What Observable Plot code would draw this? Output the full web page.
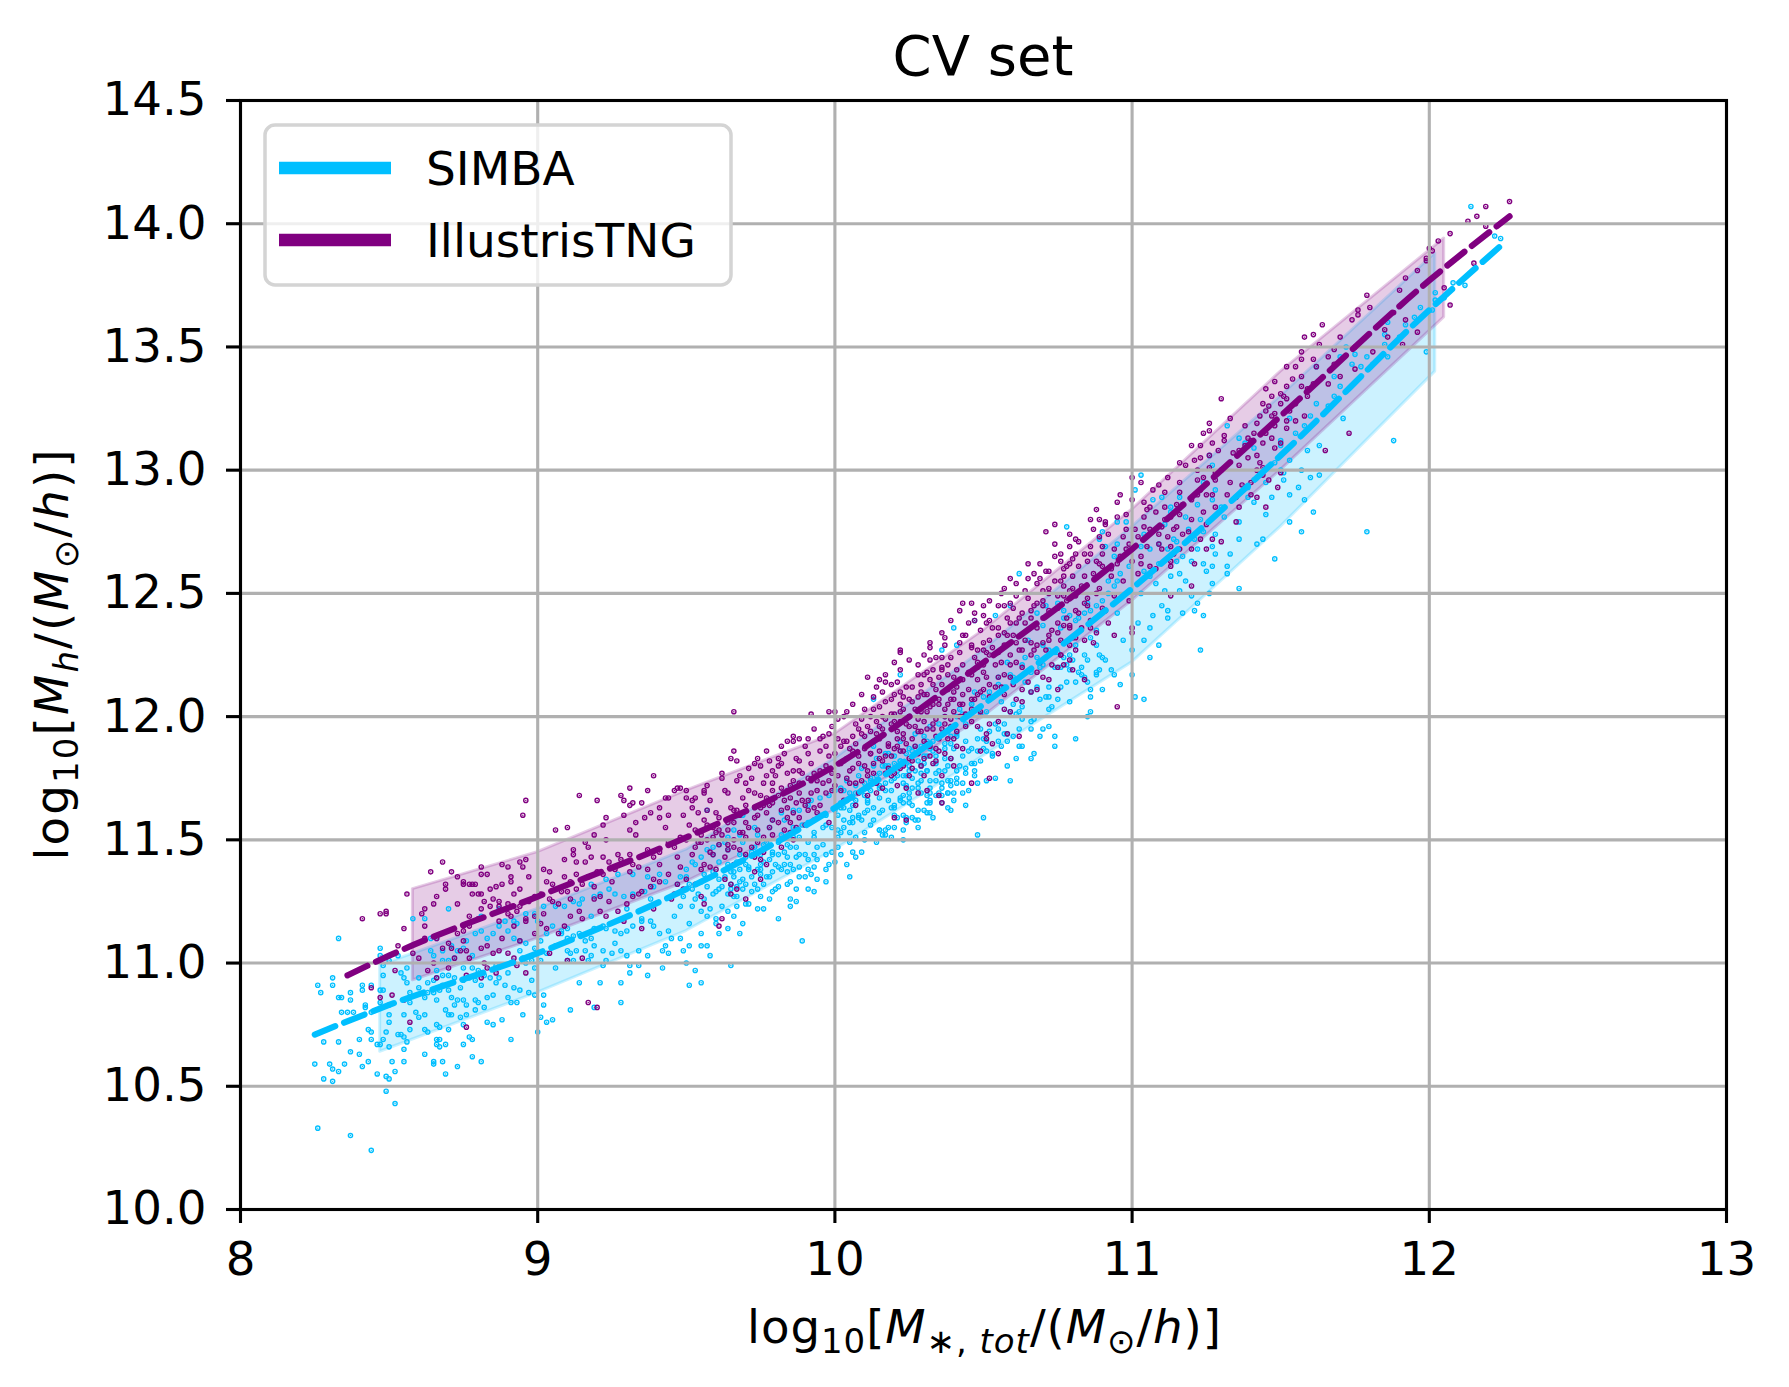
<!DOCTYPE html>
<html><head><meta charset="utf-8">
<script src="https://cdn.jsdelivr.net/npm/d3@7"></script>
<script src="https://cdn.jsdelivr.net/npm/@observablehq/plot@0.6"></script>
<style>body{margin:0;background:#fff;} svg{display:block;}</style>
</head><body><div id="chart"></div>
<script>
// ---- data ----
const xTicks = [8, 9, 10, 11, 12, 13];
const yTicks = [10, 10.5, 11, 11.5, 12, 12.5, 13, 13.5, 14, 14.5];
const seriesNames = ["SIMBA", "IllustrisTNG"];

const simbaMeanX = [8.25, 8.5, 9.0, 9.5, 10.0, 10.5, 11.0, 11.5, 12.0, 12.24];
const simbaMeanY = [10.71, 10.83, 11.04, 11.30, 11.63, 12.05, 12.52, 13.06, 13.65, 13.91];
const tngMeanX = [8.36, 8.5, 9.0, 9.5, 10.0, 10.5, 11.0, 11.5, 12.0, 12.27];
const tngMeanY = [10.95, 11.03, 11.27, 11.51, 11.80, 12.22, 12.68, 13.22, 13.77, 14.03];

const simbaBandX = [8.47, 9.0, 9.5, 10.0, 10.5, 11.0, 11.5, 12.02];
const simbaBandLo = [10.64, 10.88, 11.13, 11.46, 11.84, 12.22, 12.77, 13.40];
const simbaBandHi = [10.99, 11.22, 11.46, 11.83, 12.27, 12.77, 13.30, 13.88];
const tngBandX = [8.58, 9.0, 9.5, 10.0, 10.5, 11.0, 11.5, 12.05];
const tngBandLo = [10.93, 11.10, 11.33, 11.62, 12.00, 12.47, 13.00, 13.62];
const tngBandHi = [11.30, 11.45, 11.70, 11.93, 12.35, 12.84, 13.40, 13.94];

const simbaPoints = [
[8.33,11.10],[8.26,10.91],[8.27,10.88],[8.31,10.94],[8.31,10.91],[8.33,10.86],[8.34,10.86],[8.37,10.88],[8.37,10.85],[8.34,10.80],[8.36,10.80],[8.38,10.80],[8.41,10.89],[8.41,10.91],[8.44,10.91],[8.42,10.83],[8.42,10.82],[8.44,10.80],[8.43,10.73],[8.44,10.72],[8.44,10.69],[8.46,10.67],[8.47,10.67],[8.48,10.69],[8.49,10.72],[8.50,10.66],[8.40,10.69],[8.28,10.68],[8.33,10.68],[8.37,10.64],[8.40,10.63],[8.43,10.60],[8.41,10.58],[8.35,10.59],[8.30,10.59],[8.31,10.57],[8.25,10.59],[8.28,10.53],[8.31,10.52],[8.33,10.56],[8.46,10.55],[8.49,10.54],[8.50,10.53],[8.52,10.56],[8.51,10.60],[8.55,10.60],[8.55,10.65],[8.53,10.71],[8.54,10.71],[8.55,10.70],[8.56,10.68],[8.49,10.48],[8.52,10.43],[8.26,10.33],[8.37,10.30],[8.44,10.24],[8.62,10.63],[8.65,10.60],[8.65,10.59],[8.68,10.60],[8.69,10.55],[8.73,10.58],[8.78,10.62],[8.81,10.60],[8.75,10.67],[8.77,10.70],[8.78,10.69],[8.69,10.67],[8.67,10.69],[8.66,10.69],[8.66,10.67],[8.67,10.66],[8.63,10.72],[8.62,10.73],[8.60,10.78],[8.62,10.79],[8.59,10.80],[8.57,10.73],[8.55,10.79],[8.57,10.84],[8.57,10.88],[8.56,10.92],[8.55,10.94],[8.56,10.98],[8.54,10.96],[8.53,11.03],[8.50,11.01],[8.47,11.06],[8.47,11.03],[8.48,10.99],[8.48,10.95],[8.48,10.89],[8.50,10.83],[8.50,10.79],[8.50,10.76],[8.47,10.89],[8.47,10.84],
[8.60,10.90],[8.63,10.88],[8.65,10.88],[8.66,10.85],[8.67,10.89],[8.68,10.91],[8.70,10.89],[8.71,10.86],[8.72,10.83],[8.73,10.85],[8.75,10.85],[8.76,10.83],[8.79,10.85],[8.80,10.84],[8.79,10.81],[8.76,10.79],[8.74,10.78],[8.75,10.75],[8.71,10.79],[8.69,10.81],[8.66,10.75],[8.67,10.74],[8.70,10.73],[8.83,10.76],[8.85,10.75],[8.88,10.77],[8.91,10.84],[8.93,10.84],[8.95,10.79],[8.91,10.69],[9.00,10.72],[9.01,10.78],[9.03,10.76],[9.05,10.77],[9.02,10.87],[8.99,10.87],[8.97,10.88],[8.94,10.89],[8.92,10.90],[8.89,10.91],[8.85,10.87],[8.83,10.86],[8.81,10.91],[8.79,10.93],[8.77,10.94],[8.75,10.93],[8.72,10.94],[8.70,10.95],[8.68,10.95],[8.66,10.94],[8.65,10.93],[8.63,10.92],[8.60,10.94],
[8.58,11.18],[8.62,11.18],[8.64,11.10],[8.66,11.10],[8.64,11.05],[8.65,11.03],[8.68,11.01],[8.70,11.01],[8.72,11.02],[8.75,10.98],[8.78,10.98],[8.80,10.97],[8.82,10.95],[8.84,10.94],[8.86,10.92],[8.87,10.94],[8.90,10.96],[8.92,11.00],[8.95,11.02],[8.96,11.00],[8.98,11.01],[8.99,10.98],[9.01,11.01],[9.03,11.04],[9.06,11.07],[9.10,11.05],[9.11,11.04],[9.12,11.01],[9.10,11.01],[9.13,11.05],[9.16,11.05],[9.18,11.03],[9.17,11.01],[9.19,11.07],[9.22,11.05],[9.23,11.01],[9.25,11.04],[9.28,11.05],[9.30,11.03],[9.31,10.99],[9.31,10.96],[9.34,10.99],[9.37,10.95],[9.37,11.03],[9.42,11.05],[9.44,11.04],[9.43,11.07],[9.45,11.10],[9.48,11.10],[9.44,11.13],[9.41,11.12],[9.39,11.15],[9.38,11.17],[9.35,11.18],[9.35,11.17],[9.32,11.15],[9.30,11.13],[9.28,11.12],[9.26,11.13],[9.23,11.14],[9.22,11.15],[9.19,11.14],[9.18,11.10],[9.16,11.09],[9.14,11.12],[9.12,11.11],[9.10,11.10],[9.08,11.12],[9.08,11.13],[9.05,11.15],[9.03,11.12],[9.01,11.09],[8.99,11.06],[8.96,11.08],[8.94,11.09],[8.92,11.10],[8.90,11.13],[8.87,11.15],[8.85,11.12],[8.83,11.10],[8.81,11.13],[8.79,11.12],[8.76,11.09],[8.75,11.06],[8.73,11.05],[8.71,11.07],[8.68,11.05],
[8.87,11.22],[8.92,11.17],[8.93,11.16],[8.96,11.20],[8.99,11.20],[9.00,11.17],[9.02,11.23],[9.06,11.23],[9.09,11.23],[9.12,11.25],[9.14,11.24],[9.15,11.26],[9.19,11.27],[9.21,11.28],[9.24,11.30],[9.26,11.28],[9.29,11.27],[9.32,11.28],[9.36,11.29],[9.39,11.31],[9.43,11.33],[9.47,11.32],[9.41,11.36],[9.37,11.35],[9.32,11.36],[9.27,11.36],[9.23,11.34],[9.18,11.32],[9.21,10.92],[9.28,10.92],[9.28,10.84],[9.19,10.82],[9.11,10.81],[8.70,11.22],[8.81,11.19],[8.89,11.17],
[9.51,10.91],[9.55,10.92],[9.53,10.97],[9.50,11.00],[9.65,10.99],[9.58,11.03],[9.57,11.07],[9.55,11.07],[9.51,11.07],[9.89,11.09],[9.81,11.18],[9.76,11.22],[9.85,11.23],[9.87,11.25],[9.91,11.30],[9.87,11.30],[9.84,11.32],[9.88,11.35],[9.91,11.38],[9.93,11.39],[9.94,11.34],[9.97,11.38],[10.05,11.35],[10.07,11.43],[10.00,11.41],[9.97,11.44],[9.93,11.44],[9.91,11.42],[9.88,11.44],[9.85,11.47],[9.83,11.45],[9.81,11.44],[9.78,11.42],[9.75,11.40],[9.74,11.38],[9.71,11.39],[9.68,11.38],[9.66,11.35],[9.65,11.32],[9.67,11.31],[9.69,11.30],[9.67,11.23],[9.68,11.12],[9.64,11.14],[9.61,11.12],[9.60,11.16],[9.57,11.19],[9.55,11.21],[9.53,11.26],[9.52,11.30],[9.51,11.32],[9.50,11.35],[9.49,11.27],[9.48,11.23],[9.52,11.23],[9.56,11.26],[9.59,11.28],[9.61,11.30],[9.64,11.28],[9.66,11.27],[9.71,11.24],[9.74,11.30],[9.76,11.32],[9.78,11.35],[9.79,11.37],[9.81,11.39],[9.83,11.40],[9.85,11.40],[9.86,11.38],[9.70,11.32],[9.69,11.34],[9.72,11.35],[9.75,11.38],[9.79,11.29],
[9.55,11.33],[9.57,11.31],[9.59,11.37],[9.61,11.34],[9.64,11.40],[9.66,11.37],[9.68,11.44],[9.70,11.40],[9.73,11.47],[9.75,11.44],[9.77,11.49],[9.79,11.45],[9.82,11.52],[9.84,11.48],[9.86,11.55],[9.88,11.51],[9.91,11.57],[9.93,11.53],[9.95,11.60],[9.97,11.56],
[10.10,11.53],[10.15,11.54],[10.17,11.54],[10.17,11.52],[10.20,11.60],[10.24,11.59],[10.26,11.59],[10.31,11.61],[10.32,11.61],[10.31,11.65],[10.36,11.65],[10.34,11.68],[10.38,11.69],[10.40,11.69],[10.41,11.73],[10.39,11.62],[10.32,11.71],[10.28,11.71],[10.25,11.67],[10.22,11.67],[10.20,11.63],[10.23,11.65],[10.15,11.67],[10.13,11.63],[10.11,11.62],[10.08,11.59],[10.06,11.59],[10.05,11.57],[10.03,11.55],[10.01,11.54],[10.26,11.75],[10.25,11.78],[10.23,11.76],[10.20,11.75],[10.17,11.73],[10.15,11.71],[10.13,11.73],[10.11,11.71],[10.09,11.70],[10.06,11.67],[10.04,11.66],[10.02,11.63],[10.00,11.62],[10.31,11.84],[10.33,11.86],[10.37,11.89],[10.39,11.92],[10.41,11.93],[10.31,11.90],[10.29,11.88],[10.26,11.86],[10.24,11.85],[10.22,11.82],[10.20,11.81],[10.17,11.80],[10.15,11.77],[10.13,11.88],[10.22,12.17],[10.13,12.07],[10.30,11.81],[10.35,11.78],[10.38,11.80],[10.41,11.78],[10.39,11.74],[10.34,11.74],[9.57,11.62],[9.69,11.60],[9.66,11.54],[9.64,11.51],[9.61,11.48],[9.59,11.47],[9.57,11.46],[9.55,11.43],[9.53,11.40],[9.50,11.38],[9.48,11.35],
[10.78,12.77],[10.62,12.58],[10.54,12.41],[10.47,12.39],[10.40,12.36],[10.41,12.29],[10.36,12.27],[10.59,12.45],[10.68,12.42],[10.71,12.45],[10.75,12.46],[10.77,12.43],[10.79,12.41],[10.81,12.39],[10.84,12.42],[10.86,12.43],[10.88,12.45],[10.90,12.47],[10.92,12.50],[10.94,12.53],[10.95,12.55],[10.96,12.58],[10.94,12.65],[10.95,12.70],[10.91,12.69],[10.89,12.72],[10.90,12.75],[10.95,12.79],[10.98,12.79],[11.01,12.92],[11.03,12.98],[11.07,12.88],[11.10,12.89],[11.13,12.85],[11.13,12.83],[11.16,12.89],[11.19,12.76],[11.23,12.80],[11.27,13.02],[11.27,12.88],[11.28,12.92],[11.27,12.69],[11.28,12.66],[11.24,12.62],[11.25,12.59],[11.27,12.61],[11.32,12.61],[11.32,12.58],[11.26,12.50],[11.20,12.49],[11.22,12.46],[11.24,12.41],[11.23,12.27],[11.06,12.24],[11.09,12.29],[11.04,12.31],[11.02,12.38],[11.07,12.41],[11.10,12.45],[11.12,12.43],[11.17,12.42],[11.16,12.51],[11.11,12.51],[11.08,12.54],[11.06,12.57],[11.04,12.59],[11.13,12.57],[11.16,12.58],[11.15,12.63],[11.17,12.65],[11.12,12.68],[11.09,12.70],[11.06,12.68],[11.03,12.69],[11.00,12.68],[11.04,12.74],[11.08,12.76],[11.11,12.78],[11.14,12.72],[11.21,12.72],[11.22,12.68],[11.20,12.63],[11.28,12.74],[11.31,12.81],[11.24,12.95],[11.22,12.86],[11.18,12.81],
[11.01,12.08],[11.04,12.07],[11.00,12.17],[10.94,12.17],[10.90,12.11],[10.86,12.08],[10.88,12.17],[10.89,12.19],[10.91,12.23],[10.89,12.25],[10.88,12.29],[10.85,12.23],[10.82,12.18],[10.81,12.14],[10.79,12.19],[10.78,12.21],[10.85,12.14],[10.84,12.16],[10.83,12.20],[10.79,12.25],[10.77,12.24],[10.76,12.20],[10.75,12.26],[10.72,12.27],[10.70,12.21],[10.68,12.24],[10.66,12.18],[10.63,12.21],[10.61,12.15],[10.59,12.17],[10.57,12.12],[10.55,12.13],[10.52,12.07],[10.50,12.08],[10.48,12.03],[10.46,12.05],[10.43,12.01],[10.71,12.08],[10.73,12.04],[10.75,12.07],[10.72,12.12],[10.69,12.07],[10.66,12.10],[10.63,12.04],[10.61,12.01],[10.59,12.02],[10.57,11.97],[10.55,11.95],[10.52,11.94],[10.51,11.90],[10.50,11.91],[10.48,11.86],[10.46,11.87],[10.43,11.84],[10.44,11.77],[10.47,11.76],[10.51,11.74],[10.54,11.75],[10.59,11.74],[10.58,11.80],[10.61,11.83],[10.63,11.88],[10.66,11.83],[10.67,11.85],[10.69,11.92],[10.70,11.95],[10.72,11.96],[10.74,11.92],[10.74,11.88],[10.81,11.91],[10.66,11.98],[10.63,11.99],[10.62,11.95],[10.60,11.92],[10.58,11.93],[10.56,11.88],[10.55,11.90],[10.53,11.85],[10.51,11.86],[10.49,11.82],[10.47,11.81],[10.44,11.79],[10.50,11.59],[10.48,11.52],[10.45,11.70],[10.44,11.64],[10.85,12.00],[10.86,12.02],
[10.05,11.49],[10.02,11.53],[10.06,11.57],[10.10,11.61],[10.09,11.58],[10.15,11.54],[10.19,11.51],[10.23,11.54],[10.27,11.58],[10.23,11.60],[10.20,11.64],[10.18,11.66],[10.22,11.66],[10.25,11.69],[10.29,11.69],[10.32,11.65],[10.32,11.69],[10.35,11.69],[10.38,11.69],[10.40,11.66],[10.36,11.73],[10.32,11.74],[10.28,11.73],[10.24,11.76],[10.21,11.78],[10.19,11.74],[10.15,11.72],[10.12,11.70],[10.10,11.68],[10.07,11.66],[10.05,11.69],[10.03,11.70],[10.02,11.65],[10.01,11.60],[10.05,11.62],[10.25,11.87],[10.28,11.82],[10.30,11.84],[10.32,11.87],[10.34,11.81],[10.37,11.87],[10.39,11.89],[10.41,11.92],[10.37,11.78],[10.38,11.74],[10.31,11.78],[10.29,11.80],[10.27,11.78],[10.24,11.81],[10.22,11.82],[10.20,11.84],[10.18,11.85],[10.16,11.80],[10.14,11.76],[10.12,11.74],[10.10,11.73],[10.07,11.72],[10.23,11.73],[10.25,11.65],[10.30,11.62],[10.28,11.58],
[12.14,14.07],[12.22,13.95],[12.24,13.94],[12.12,13.75],[12.02,13.72],[12.02,13.69],[11.99,13.48],[11.86,13.60],[11.85,13.55],[11.85,13.51],[11.92,13.59],[11.74,13.43],[11.77,13.42],[11.70,13.34],[11.68,13.30],[11.71,13.21],[11.63,13.10],[11.60,12.97],[11.63,12.98],[11.51,12.96],[11.51,12.99],[11.53,12.90],[11.47,12.89],[11.58,12.88],[11.61,12.83],[11.57,12.75],[11.79,12.75],[11.88,13.12],[11.44,12.72],[11.36,12.72],[11.36,12.79],[11.62,13.42],[11.72,13.50],[11.75,13.47],[11.79,13.46],[11.81,13.43],[11.68,13.38],[11.66,13.26],[11.53,13.21],[11.50,13.12],[11.50,13.10],[11.41,13.09],[11.38,13.11],[11.36,13.13],[11.32,13.18],[11.26,13.06],[11.41,12.96],[11.43,12.99],[11.45,12.95],[11.39,12.89],[11.41,12.87],[11.48,13.03],[11.57,13.00],[11.53,13.04],[11.55,13.15],[11.58,13.18],[11.60,13.22],[11.62,13.27],[11.70,13.46],[11.86,13.46],[11.90,13.54],[11.95,13.62],[11.97,13.66],[12.01,13.65],[12.05,13.70],[12.08,13.76]
];

// extra SIMBA points estimated in the densest parts of the cloud
const simbaPointsDense = [
[9.51,11.16],[9.52,11.41],[9.54,11.28],[9.55,11.12],[9.56,11.36],[9.58,11.22],[9.59,11.44],[9.60,11.18],[9.62,11.31],[9.63,11.49],[9.64,11.21],[9.65,11.37],[9.67,11.27],[9.68,11.52],[9.69,11.16],[9.70,11.43],[9.72,11.29],[9.73,11.55],[9.74,11.22],[9.75,11.36],[9.76,11.48],[9.78,11.26],[9.79,11.58],[9.80,11.40],[9.81,11.31],[9.82,11.61],[9.84,11.37],[9.85,11.26],[9.86,11.51],[9.87,11.43],[9.88,11.62],[9.90,11.35],[9.91,11.49],[9.92,11.66],[9.93,11.29],[9.94,11.47],[9.96,11.55],[9.97,11.33],[9.98,11.68],[9.99,11.45],
[10.01,11.47],[10.02,11.71],[10.03,11.58],[10.04,11.40],[10.06,11.64],[10.07,11.51],[10.08,11.76],[10.09,11.45],[10.11,11.66],[10.12,11.56],[10.13,11.80],[10.14,11.49],[10.16,11.62],[10.17,11.85],[10.18,11.55],[10.19,11.70],[10.21,11.59],[10.22,11.90],[10.23,11.50],[10.24,11.72],[10.26,11.64],[10.27,11.93],[10.28,11.55],[10.29,11.77],[10.31,11.68],[10.32,11.96],[10.33,11.59],[10.34,11.84],[10.36,11.71],[10.37,12.00],[10.38,11.63],[10.39,11.83],[10.41,11.75],[10.42,12.03],[10.43,11.69],[10.44,11.90],[10.46,11.81],[10.47,12.10],[10.48,11.73],[10.49,11.95],
[10.51,12.02],[10.53,11.84],[10.55,12.16],[10.57,11.93],[10.58,12.22],[10.60,12.05],[10.62,11.88],[10.64,12.14],[10.65,12.31],[10.67,11.99],[10.69,12.20],[10.70,12.37],[10.72,12.03],[10.74,12.26],[10.76,12.12],[10.77,12.40],[10.79,12.06],[10.81,12.29],[10.83,12.17],[10.85,12.46],[10.86,12.11],[10.88,12.35],[10.90,12.24],[10.92,12.55],[10.93,12.19],[10.95,12.42],[10.97,12.31],[10.99,12.61],[11.00,12.27],[10.96,12.13],
[11.03,12.50],[11.06,12.36],[11.09,12.62],[11.12,12.40],[11.15,12.71],[11.18,12.55],[11.21,12.43],[11.24,12.75],[11.27,12.54],[11.30,12.85],[11.33,12.66],[11.36,12.52],[11.39,12.93],[11.42,12.70],[11.45,12.82],[11.48,12.64],[11.50,13.00],[11.53,12.79],[11.56,12.93],[11.59,13.08],
[8.62,10.86],[8.66,10.97],[8.70,10.79],[8.74,10.90],[8.78,11.03],[8.82,10.82],[8.86,10.99],[8.90,10.86],[8.94,11.05],[8.98,10.93],[9.02,10.83],[9.06,10.98],[9.10,11.14],[9.14,10.92],[9.18,11.19],[9.22,10.99],[9.26,11.08],[9.30,11.22],[9.34,11.05],[9.38,11.26],[9.42,10.98],[9.46,11.19],[9.49,11.05],
[9.60,11.29],[9.61,11.41],[9.62,11.23],[9.63,11.35],[9.64,11.46],[9.65,11.30],[9.66,11.19],[9.67,11.41],[9.68,11.33],[9.69,11.49],[9.70,11.24],[9.71,11.38],[9.72,11.45],[9.73,11.32],[9.74,11.52],[9.75,11.27],[9.76,11.41],[9.77,11.35],[9.78,11.55],[9.79,11.44],[9.80,11.30],[9.81,11.49],[9.82,11.38],[9.83,11.58],[9.84,11.43],[9.85,11.33],[9.86,11.62],[9.87,11.47],[9.88,11.39],[9.89,11.56],[9.90,11.44],[9.91,11.64],[9.92,11.36],[9.93,11.51],[9.94,11.42],[9.95,11.67],[9.96,11.48],[9.97,11.60],[9.98,11.40],[9.99,11.55],
[10.00,11.70],[10.01,11.51],[10.02,11.44],[10.03,11.63],[10.04,11.74],[10.05,11.53],[10.06,11.45],[10.07,11.69],[10.08,11.60],[10.09,11.79],[10.10,11.50],[10.11,11.65],[10.12,11.75],[10.13,11.58],[10.14,11.83],[10.15,11.61],[10.16,11.52],[10.17,11.70],[10.18,11.80],[10.19,11.63],[10.20,11.55],[10.21,11.76],[10.22,11.86],[10.23,11.68],[10.24,11.57],[10.25,11.80],[10.26,11.71],[10.27,11.88],[10.28,11.62],[10.29,11.74],[10.30,11.92],[10.31,11.78],[10.32,11.66],[10.33,11.90],[10.34,11.77],[10.35,11.97],[10.36,11.68],[10.37,11.83],[10.38,11.94],[10.39,11.72],[10.40,11.87],[10.41,12.00],[10.42,11.80],[10.43,11.73],[10.44,11.97],[10.45,11.86],[10.46,12.05],[10.47,11.78],[10.48,11.91],[10.49,12.01],
[10.50,11.87],[10.52,12.10],[10.54,11.97],[10.56,12.06],[10.58,11.90],[10.60,12.16],[10.62,12.02],[10.64,12.24],[10.66,11.95],[10.68,12.12],[10.70,12.29],[10.72,12.08],[10.74,12.20],[10.76,12.36],[10.78,12.14],[10.80,12.23],[10.82,12.40],[10.84,12.25],[10.86,12.32],[10.88,12.18]
];

const tngPoints = [
[8.68,11.41],[8.64,11.37],[8.71,11.37],[8.81,11.39],[8.88,11.40],[8.90,11.39],[8.94,11.41],[8.95,11.39],[9.02,11.38],[9.04,11.37],[9.03,11.33],[8.97,11.35],[8.94,11.30],[8.91,11.35],[8.91,11.33],[8.88,11.32],[8.86,11.31],[8.83,11.36],[8.81,11.36],[8.78,11.32],[8.75,11.33],[8.75,11.32],[8.77,11.32],[8.79,11.32],[8.80,11.28],[8.81,11.28],[8.78,11.28],[8.69,11.30],[8.69,11.32],[8.65,11.24],[8.62,11.22],[8.61,11.20],[8.56,11.28],[8.73,11.24],[8.75,11.15],[8.75,11.13],[8.77,11.15],[8.77,11.19],[8.81,11.22],[8.85,11.26],[8.87,11.23],[8.90,11.20],[8.93,11.21],[8.96,11.18],[8.99,11.19],[9.01,11.16],[9.03,11.14],[9.05,11.25],[9.07,11.24],[9.09,11.35],[9.11,11.33],[9.12,11.44],[9.13,11.41],[9.16,11.41],[9.18,11.43],[9.22,11.43],[9.28,11.42],[9.31,11.44],[9.32,11.40],[9.34,11.39],[9.26,11.38],[9.24,11.41],[9.22,11.36],[9.20,11.37],[9.17,11.35],[9.15,11.32],[9.13,11.30],[9.10,11.29],[9.08,11.29],[9.04,11.26],[9.01,11.28],[8.99,11.27],[8.97,11.25],[8.94,11.23],[8.92,11.23],[8.90,11.24],[8.87,11.25],[8.84,11.23],[8.82,11.25],[9.39,11.43],[9.37,11.38],[9.39,11.34],[9.41,11.33],[9.44,11.36],[9.47,11.32],[9.46,11.28],[9.38,11.31],[9.34,11.28],[9.32,11.27],[9.30,11.24],[9.27,11.21],[9.23,11.19],[9.19,11.26],[9.21,11.27],[9.24,11.25],[9.35,11.14],[9.14,11.21],[9.11,11.19],[9.09,11.15],[9.10,11.01],[9.15,11.02],[9.17,10.84],[8.96,10.96],[8.93,10.99],[8.92,11.02],[8.96,11.17],[8.92,11.15],[8.94,11.09],[8.87,11.17],[8.91,11.19],[8.76,10.74],[8.57,10.76],[8.51,10.87],[8.47,10.86],[8.55,10.85],[8.52,10.97],[8.47,11.20],[8.49,11.21],[8.49,11.20],[8.41,11.18],[8.44,10.90],[8.55,11.14],[8.53,11.07],[8.58,11.04],[8.60,11.02],[8.62,11.10],[8.66,11.10],[8.68,11.06],[8.71,11.06],[8.72,11.02],[8.74,11.05],[8.76,11.05],[8.75,11.09],[8.73,11.12],[8.81,11.06],[8.83,11.07],[8.82,11.00],[8.85,11.04],[8.87,11.05],[8.90,11.04],[8.65,11.00],[8.63,10.97],[8.66,10.94],[8.70,10.98],[8.76,10.95],[8.81,10.94],[8.83,10.98],[8.86,10.96],[9.04,11.04],
[8.95,11.60],[8.96,11.66],[9.14,11.68],[9.20,11.66],[9.06,11.54],[9.10,11.55],[9.39,11.76],[9.37,11.70],[9.28,11.68],[9.31,11.71],[9.29,11.66],[9.32,11.65],[9.35,11.65],[9.44,11.67],[9.46,11.70],[9.48,11.71],[9.50,11.70],[9.53,11.67],[9.56,11.70],[9.20,10.82],
[9.31,11.64],[9.29,11.60],[9.22,11.56],[9.23,11.59],[9.19,11.52],[9.16,11.49],[9.12,11.46],[9.31,11.54],[9.33,11.57],[9.36,11.59],[9.38,11.61],[9.41,11.59],[9.44,11.60],[9.41,11.63],[9.43,11.67],[9.47,11.71],[9.50,11.67],[9.52,11.63],[9.56,11.69],[9.57,11.72],[9.62,11.75],[9.64,11.69],[9.65,11.83],[9.66,11.86],[9.67,11.82],[9.66,12.02],[9.68,11.76],[9.70,11.73],[9.72,11.75],[9.74,11.83],[9.75,11.80],[9.78,11.82],[9.79,11.78],[9.82,11.81],[9.81,11.83],[9.84,11.90],[9.86,11.90],[9.82,11.88],[9.88,11.91],[9.91,11.91],[9.93,11.95],[9.92,12.01],[9.98,12.02],[10.00,12.02],[9.98,11.93],[9.95,11.91],[9.91,11.85],[9.88,11.82],[9.86,11.78],[9.84,11.77],[9.82,11.71],[9.79,11.70],[9.77,11.67],[9.75,11.68],[9.73,11.63],[9.70,11.64],[9.68,11.60],[9.66,11.62],[9.64,11.57],[9.61,11.59],[9.59,11.55],[9.57,11.56],[9.55,11.52],[9.53,11.54],[9.50,11.50],[9.48,11.51],[9.46,11.47],[9.44,11.49],[9.41,11.45],
[10.11,12.16],[10.15,12.15],[10.17,12.17],[10.17,12.14],[10.20,12.22],[10.22,12.26],[10.30,12.25],[10.32,12.23],[10.36,12.24],[10.36,12.20],[10.33,12.19],[10.30,12.17],[10.26,12.12],[10.29,12.13],[10.32,12.15],[10.35,12.16],[10.38,12.17],[10.41,12.19],[10.20,12.09],[10.22,12.10],[10.19,12.07],[10.15,12.04],[10.13,12.03],[10.22,12.05],[10.25,12.07],[10.28,12.08],[10.31,12.09],[10.34,12.11],[10.38,12.11],[10.40,12.10],[10.39,12.07],[10.35,12.05],[10.32,12.04],[10.29,12.02],[10.25,12.00],[10.22,11.98],[10.19,11.97],[10.15,11.96],[10.12,11.94],[10.09,11.93],[10.06,11.92],[10.04,11.90],[10.02,11.88],[10.00,11.85],[10.09,11.99],[10.11,11.96],[10.14,11.98],[10.16,12.00],[10.20,12.01],[10.23,12.03],[10.27,11.96],[10.30,11.98],[10.33,11.97],[10.37,12.00],[10.40,12.02],[10.42,12.05],[10.21,11.94],[10.23,11.93],[10.26,11.91],[10.29,11.94],[10.34,11.92],[10.36,11.95],[10.39,11.96],[10.15,11.91],[10.18,11.89],[10.21,11.88],[10.24,11.89],[10.28,11.85],[10.31,11.89],[10.34,11.87],[10.38,11.91],[10.41,11.88],[10.05,11.87],[10.08,11.84],[10.12,11.85],[10.15,11.86],[10.19,11.84],[10.22,11.86],[10.25,11.83],[10.30,11.83],[10.32,11.84],[10.35,11.86],[10.39,11.83],[10.03,11.82],[10.06,11.79],[10.10,11.80],[10.13,11.81],[10.16,11.82],[10.20,11.77],[10.23,11.80],[10.26,11.79],[10.30,11.76],[10.33,11.81],[10.36,11.76],[10.40,11.80],[10.01,11.76],[10.04,11.75],[10.07,11.73],[10.11,11.76],[10.14,11.73],[10.17,11.77],[10.21,11.72],[10.24,11.71],[10.28,11.69],[10.31,11.70],[10.35,11.68],[10.20,11.59],[10.24,11.58],[10.36,11.65],
[9.77,11.76],[9.79,11.73],[9.84,11.70],[9.86,11.74],[9.88,11.73],[9.91,11.75],[9.93,11.77],[9.95,11.78],[9.97,11.80],[9.85,11.67],[9.87,11.65],[9.89,11.66],[9.92,11.69],[9.94,11.70],[9.96,11.73],[9.98,11.74],[9.79,11.65],[9.82,11.62],[9.84,11.63],[9.86,11.61],[9.88,11.59],[9.91,11.62],[9.93,11.63],[9.75,11.63],[9.77,11.61],[9.73,11.59],[9.70,11.57],[9.74,11.54],[9.76,11.51],[9.78,11.55],[9.81,11.57],[9.83,11.54],[9.85,11.57],[9.87,11.55],[9.64,11.54],[9.66,11.57],[9.68,11.53],[9.70,11.51],[9.61,11.54],[9.59,11.51],[9.57,11.50],[9.55,11.49],[9.53,11.47],[9.61,11.48],[9.64,11.46],[9.66,11.47],[9.68,11.46],[9.70,11.44],[9.73,11.43],[9.75,11.42],[9.77,11.40],[9.56,11.40],[9.58,11.39],[9.60,11.38],[9.63,11.34],[9.65,11.32],[9.67,11.30],[9.62,11.18],[9.61,11.15],[9.56,11.24],[9.55,11.27],[9.53,11.32],[9.50,11.34],[9.48,11.39],[9.75,11.34],[9.73,11.37],[9.70,11.26],[9.65,11.28],
[10.22,12.27],[10.32,12.30],[10.37,12.29],[10.36,12.34],[10.39,12.39],[10.42,12.43],[10.43,12.46],[10.46,12.46],[10.43,12.33],[10.47,12.39],[10.50,12.41],[10.52,12.39],[10.57,12.45],[10.59,12.46],[10.61,12.49],[10.65,12.48],[10.57,12.52],[10.59,12.56],[10.65,12.62],[10.67,12.58],[10.70,12.51],[10.69,12.56],[10.72,12.59],[10.74,12.65],[10.76,12.63],[10.79,12.74],[10.71,12.75],[10.74,12.78],[10.79,12.69],[10.81,12.66],[10.80,12.64],[10.82,12.61],[10.78,12.61],[10.77,12.57],[10.76,12.55],[10.77,12.53],[10.79,12.51],[10.81,12.49],[10.84,12.46],[10.75,12.49],[10.72,12.50],[10.70,12.47],[10.68,12.46],[10.66,12.43],[10.63,12.42],[10.61,12.38],[10.59,12.38],[10.57,12.34],[10.55,12.33],[10.52,12.31],[10.50,12.30],[10.48,12.27],[10.46,12.28],[10.86,12.80],[10.87,12.76],[10.89,12.80],[10.91,12.79],[10.89,12.73],[10.90,12.69],[10.86,12.66],[10.85,12.63],[10.88,12.63],[10.90,12.61],[10.93,12.57],[10.95,12.62],[10.94,12.68],[10.97,12.73],[10.96,12.90],[10.95,12.87],[10.98,12.82],[11.00,12.97],[11.03,12.95],[11.04,12.87],[11.05,12.84],[11.09,12.94],[11.08,12.83],[11.11,12.85],[11.11,12.80],[11.13,12.81],[11.16,12.82],[11.17,12.86],[11.16,12.91],[11.16,13.03],[11.21,13.04],[11.23,13.05],[11.24,12.97],[11.22,12.96],[11.26,13.01],[11.28,12.99],[11.25,12.90],[11.27,12.90],[11.28,12.96],[11.30,13.00],[11.22,12.90],[11.20,12.88],[11.15,12.77],[11.14,12.76],[11.12,12.73],[11.09,12.74],[11.06,12.76],[11.04,12.77],[11.02,12.73],[10.99,12.70],[10.98,12.68],[11.00,12.63],[11.03,12.65],[11.06,12.61],[11.10,12.68],[11.13,12.63],[11.16,12.68],[11.20,12.68],[11.23,12.72],[11.13,12.61],[11.25,12.68],[11.13,12.49],[11.20,12.53],
[10.95,12.04],[11.00,12.34],[11.00,12.36],[10.94,12.33],[10.92,12.38],[10.88,12.34],[10.86,12.36],[10.84,12.31],[10.81,12.32],[10.79,12.29],[10.77,12.30],[10.76,12.25],[10.75,12.11],[10.84,12.15],[10.80,12.19],[10.81,12.27],[10.79,12.23],[10.77,12.21],[10.75,12.20],[10.72,12.15],[10.70,12.16],[10.68,12.11],[10.66,12.10],[10.63,12.06],[10.61,12.07],[10.59,12.02],[10.57,12.03],[10.55,11.98],[10.52,11.97],[10.51,11.93],[10.51,11.91],[10.49,11.86],[10.55,11.85],[10.53,11.89],[10.58,11.93],[10.62,11.92],[10.48,11.96],[10.46,11.98],[10.43,12.00],[10.43,12.05],[10.46,12.07],[10.48,12.09],[10.50,12.11],[10.52,12.13],[10.55,12.16],[10.57,12.17],[10.59,12.21],[10.61,12.22],[10.63,12.27],[10.66,12.25],[10.68,12.29],[10.70,12.30],[10.72,12.33],[10.75,12.34],[10.77,12.37],[10.79,12.37],[10.43,12.15],[10.46,12.17],[10.48,12.20],[10.50,12.21],[10.52,12.25],[10.55,12.26],[10.43,11.87],[10.52,11.75],[10.46,11.73],
[12.27,14.09],[12.19,14.07],[12.19,13.99],[12.15,13.84],[12.03,13.93],[12.00,13.90],[11.99,13.86],[12.05,13.74],[12.07,13.67],[11.96,13.56],[11.91,13.51],[11.92,13.61],[11.92,13.78],[11.88,13.64],[11.81,13.48],[11.75,13.41],[11.73,13.15],[11.65,13.08],[11.58,13.22],[11.54,13.37],[11.52,13.34],[11.48,13.36],[11.47,13.30],[11.44,13.27],[11.45,13.15],[11.44,13.11],[11.39,13.05],[11.79,13.71],[11.80,13.66],[11.76,13.65],[11.76,13.63],[11.74,13.61],[11.64,13.59],[11.61,13.55],[11.58,13.54],[11.57,13.48],[11.57,13.45],[11.61,13.45],[11.55,13.42],[11.57,13.34],[11.59,13.30],[11.52,13.29],[11.50,13.27],[11.48,13.23],[11.52,13.20],[11.52,13.17],[11.50,13.11],[11.48,13.18],[11.47,13.22],[11.45,13.24],[11.43,13.22],[11.42,13.19],[11.41,13.15],[11.40,13.12],[11.38,13.10],[11.36,13.08],[11.68,13.49],[11.70,13.54],[11.75,13.50],[11.86,13.54],[11.85,13.57],[11.90,13.73],[11.96,13.81],[11.99,13.85],[12.01,13.89],[12.07,13.96],[12.13,14.01],[12.16,14.03],[11.62,13.42],[11.66,13.46],[11.63,13.51],[11.68,13.43],[11.70,13.38],[11.66,13.35],[11.61,13.35],[11.57,13.38],[11.59,13.33],[11.55,13.27],[11.53,13.24],[11.50,13.31],[11.45,13.33],[11.42,13.00],[11.44,13.01],[11.46,12.96],[11.49,12.93],[11.40,12.95],[11.42,12.89],[11.45,12.85],[11.35,12.89],[11.36,12.85],
[11.30,13.29],[11.20,13.10],[11.24,13.15],[11.26,13.16],[11.26,13.19],[11.33,13.21],[11.31,13.14],[11.27,13.11],[11.23,13.10]
];

// extra IllustrisTNG points estimated in the densest parts of the cloud
const tngPointsDense = [
[9.51,11.56],[9.52,11.44],[9.54,11.61],[9.55,11.38],[9.56,11.58],[9.58,11.66],[9.59,11.44],[9.60,11.61],[9.62,11.52],[9.63,11.70],[9.63,11.43],[9.65,11.63],[9.66,11.50],[9.67,11.74],[9.68,11.41],[9.69,11.67],[9.71,11.55],[9.71,11.79],[9.72,11.47],[9.73,11.69],[9.74,11.60],[9.76,11.73],[9.76,11.45],[9.77,11.86],[9.78,11.64],[9.79,11.52],[9.80,11.76],[9.81,11.68],[9.82,11.47],[9.83,11.85],[9.84,11.59],[9.85,11.72],[9.86,11.50],[9.87,11.83],[9.88,11.69],[9.89,11.77],[9.90,11.56],[9.90,11.88],[9.91,11.66],[9.92,11.81],[9.93,11.58],[9.94,11.74],[9.95,11.86],[9.95,11.64],[9.96,11.92],[9.97,11.69],[9.98,11.57],[9.98,11.84],[9.99,11.77],[9.99,11.96],
[10.01,11.91],[10.02,11.70],[10.03,12.00],[10.04,11.83],[10.05,11.78],[10.06,12.05],[10.07,11.89],[10.08,11.69],[10.08,11.95],[10.09,12.09],[10.10,11.87],[10.11,11.78],[10.12,12.00],[10.13,11.90],[10.14,12.12],[10.14,11.69],[10.16,11.95],[10.17,12.06],[10.17,11.84],[10.18,11.79],[10.19,12.13],[10.20,11.98],[10.21,11.91],[10.22,12.19],[10.23,11.86],[10.23,12.08],[10.24,11.97],[10.25,12.23],[10.26,11.82],[10.27,12.03],[10.28,11.94],[10.28,12.17],[10.29,12.10],[10.30,11.90],[10.31,12.02],[10.32,12.28],[10.33,11.95],[10.33,12.13],[10.34,11.82],[10.35,12.07],[10.36,12.19],[10.37,11.97],[10.37,12.32],[10.38,12.05],[10.39,12.24],[10.40,11.91],[10.41,12.12],[10.42,12.00],[10.42,12.30],[10.43,12.21],[10.44,11.96],[10.45,12.11],[10.45,12.38],[10.46,12.03],[10.47,12.24],[10.48,12.15],[10.49,12.35],[10.49,12.02],[10.50,12.18],[10.50,12.45],
[10.51,12.26],[10.52,12.08],[10.53,12.36],[10.54,12.21],[10.55,12.45],[10.56,12.12],[10.57,12.29],[10.58,12.40],[10.59,12.16],[10.60,12.33],[10.61,12.54],[10.62,12.27],[10.63,12.11],[10.64,12.38],[10.65,12.56],[10.66,12.30],[10.67,12.45],[10.68,12.18],[10.69,12.62],[10.70,12.40],[10.71,12.27],[10.72,12.52],[10.73,12.35],[10.74,12.70],[10.75,12.44],[10.76,12.31],[10.77,12.60],[10.78,12.47],[10.79,12.36],[10.80,12.57],[10.81,12.72],[10.82,12.42],[10.83,12.53],[10.84,12.66],[10.85,12.48],[10.86,12.39],[10.87,12.58],[10.88,12.84],[10.89,12.52],[10.90,12.66],[10.91,12.43],[10.92,12.74],[10.93,12.60],[10.94,12.49],[10.95,12.81],[10.96,12.65],[10.97,12.55],[10.98,12.76],[10.99,12.47],[11.00,12.88],
[11.02,12.58],[11.04,12.81],[11.05,12.69],[11.07,12.92],[11.08,12.60],[11.10,12.77],[11.12,12.97],[11.13,12.69],[11.15,12.86],[11.17,12.74],[11.18,13.02],[11.20,12.80],[11.21,12.62],[11.23,12.92],[11.25,12.78],[11.26,13.06],[11.28,12.85],[11.30,12.71],[11.31,13.12],[11.33,12.95],[11.35,12.79],[11.36,13.02],[11.38,13.18],[11.40,12.90],[11.42,13.06],[11.44,12.98],[11.46,13.26],[11.48,13.09],[11.50,12.99],[11.52,13.42],
[9.02,11.20],[9.05,11.32],[9.07,11.12],[9.09,11.42],[9.11,11.26],[9.13,11.36],[9.15,11.18],[9.17,11.47],[9.19,11.31],[9.21,11.21],[9.23,11.50],[9.25,11.33],[9.27,11.44],[9.29,11.17],[9.31,11.37],[9.33,11.52],[9.35,11.29],[9.37,11.46],[9.39,11.22],[9.41,11.40],[9.43,11.55],[9.45,11.26],[9.47,11.43],[9.49,11.60],[9.49,11.30],
[8.62,11.15],[8.66,11.27],[8.70,11.08],[8.73,11.35],[8.77,11.02],[8.80,11.18],[8.84,11.30],[8.88,11.10],[8.92,11.28],[8.96,11.42],[8.99,11.12],
[10.00,11.72],[10.01,11.99],[10.02,11.81],[10.03,11.66],[10.03,11.90],[10.04,12.02],[10.05,11.73],[10.06,11.86],[10.07,11.97],[10.07,11.64],[10.08,11.81],[10.09,11.74],[10.10,12.03],[10.10,11.92],[10.11,11.68],[10.12,11.85],[10.13,12.08],[10.13,11.77],[10.14,11.93],[10.15,11.83],[10.16,12.10],[10.16,11.71],[10.17,11.99],[10.18,11.88],[10.19,12.01],[10.19,11.76],[10.20,11.87],[10.21,12.14],[10.22,11.79],[10.22,12.02],[10.23,11.91],[10.24,12.12],[10.25,11.76],[10.25,11.96],[10.26,12.06],[10.27,11.88],[10.28,12.21],[10.28,11.99],[10.29,11.80],[10.30,12.09],[10.31,11.95],[10.31,12.18],[10.32,11.88],[10.33,12.05],[10.34,12.24],[10.34,11.99],[10.35,11.91],[10.36,12.13],[10.37,12.03],[10.37,11.85],[10.38,12.21],[10.39,11.99],[10.40,12.16],[10.40,12.07],[10.41,11.94],[10.42,12.26],[10.43,12.09],[10.44,12.33],[10.44,12.01],[10.45,12.18],[10.46,12.29],[10.47,12.07],[10.47,12.42],[10.48,12.22],[10.49,12.10],[10.50,12.27],[10.51,12.38],[10.51,12.16],[10.52,12.47],[10.53,12.28],[10.54,12.12],[10.55,12.36],[10.56,12.22],[10.56,12.50],[10.57,12.09],[10.58,12.33],[10.59,12.25],[10.60,12.44],[10.60,12.13],[10.61,12.30],[10.62,12.40],[10.63,12.20],[10.64,12.51],[10.64,12.31],[10.65,12.14],[10.66,12.40],[10.67,12.27],[10.68,12.54],[10.68,12.36],[10.69,12.22],[10.70,12.45],[10.71,12.59],[10.72,12.31],[10.72,12.43],[10.73,12.21],[10.74,12.55],[10.75,12.38],[10.76,12.66],[10.76,12.25],[10.77,12.49],[10.78,12.40],[10.79,12.62],[10.80,12.32],[10.80,12.52],[10.81,12.43],[10.82,12.71],[10.83,12.36],[10.84,12.57],[10.85,12.45],[10.86,12.69],[10.87,12.30],[10.88,12.50],[10.89,12.62],[10.90,12.44],[10.91,12.78],
[9.52,11.66],[9.54,11.49],[9.57,11.62],[9.60,11.53],[9.62,11.77],[9.64,11.48],[9.67,11.62],[9.69,11.53],[9.71,11.70],[9.74,11.49],[9.76,11.64],[9.79,11.58],[9.81,11.80],[9.83,11.66],[9.85,11.53],[9.88,11.78],[9.90,11.64],[9.92,11.74],[9.94,11.61],[9.97,11.88],[9.99,11.70],[9.58,11.45],[9.66,11.40],[9.73,11.81],[9.86,11.92],
[11.01,12.76],[11.03,12.62],[11.06,12.85],[11.09,12.70],[11.11,12.91],[11.14,12.66],[11.16,12.95],[11.19,12.75],[11.22,13.00],[11.24,12.83],[11.27,12.72],[11.29,13.08],[11.32,12.90],[11.34,13.07],[11.37,12.94],[11.39,13.13],[11.43,13.03],[11.47,13.13],[11.51,13.30],[11.55,13.20]
];

// ---- tables built from the arrays ----
const simbaMean = simbaMeanX.map((x, i) => ({x, y: simbaMeanY[i]}));
const tngMean = tngMeanX.map((x, i) => ({x, y: tngMeanY[i]}));
const simbaBand = simbaBandX.map((x, i) => ({x, lo: simbaBandLo[i], hi: simbaBandHi[i]}));
const tngBand = tngBandX.map((x, i) => ({x, lo: tngBandLo[i], hi: tngBandHi[i]}));
const simba = simbaPoints.concat(simbaPointsDense).map(([x, y]) => ({x, y}));
const tng = tngPoints.concat(tngPointsDense).map(([x, y]) => ({x, y}));

const C1 = "#00bfff", C2 = "#800080";
const FONT = "DejaVu Sans";
const W = 1789, H = 1387;

const chart = Plot.plot({
  width: W, height: H,
  marginLeft: 240, marginRight: 63, marginTop: 100, marginBottom: 178,
  style: {fontFamily: FONT, background: "white", color: "black"},
  x: {domain: [8, 13], label: null},
  y: {domain: [10, 14.5], label: null},
  marks: [
    Plot.areaY(simbaBand, {x: "x", y1: "lo", y2: "hi", fill: C1, fillOpacity: 0.2, stroke: C1, strokeOpacity: 0.2, strokeWidth: 3}),
    Plot.areaY(tngBand, {x: "x", y1: "lo", y2: "hi", fill: C2, fillOpacity: 0.2, stroke: C2, strokeOpacity: 0.2, strokeWidth: 3}),
    Plot.dot(simba, {x: "x", y: "y", r: 2.1, stroke: C1, strokeWidth: 1.4, fill: "none"}),
    Plot.dot(simba, {x: "x", y: "y", r: 0.7, fill: C1, stroke: "none"}),
    Plot.dot(tng, {x: "x", y: "y", r: 2.1, stroke: C2, strokeWidth: 1.4, fill: "none"}),
    Plot.dot(tng, {x: "x", y: "y", r: 0.7, fill: C2, stroke: "none"}),
    Plot.gridX(xTicks, {stroke: "#b0b0b0", strokeOpacity: 1, strokeWidth: 3.1}),
    Plot.gridY(yTicks, {stroke: "#b0b0b0", strokeOpacity: 1, strokeWidth: 3.1}),
    Plot.line(simbaMean, {x: "x", y: "y", stroke: C1, strokeWidth: 6.2, strokeDasharray: "22 9.5", curve: "monotone-x"}),
    Plot.line(tngMean, {x: "x", y: "y", stroke: C2, strokeWidth: 6.2, strokeDasharray: "22 9.5", curve: "monotone-x"}),
    Plot.frame({stroke: "black", strokeWidth: 3.1}),
    Plot.axisX(xTicks, {tickSize: 14, tickPadding: 18, fontSize: 46.7, strokeWidth: 3.1, tickFormat: d => String(d), label: null}),
    Plot.axisY(yTicks, {tickSize: 14, tickPadding: 20, fontSize: 46.7, strokeWidth: 3.1, tickFormat: d3.format(".1f"), label: null})
  ]
});

const svg = d3.select(chart);
svg.attr("font-family", FONT);

// title
svg.append("text").attr("x", 983).attr("y", 75).attr("text-anchor", "middle")
  .attr("font-size", 56).attr("fill", "black").text("CV set");

function mathLabel(g, parts) {
  for (const p of parts) {
    const t = g.append("tspan").text(p.t);
    if (p.sub) t.attr("font-size", 34);
    if (p.it) t.attr("font-style", "italic");
    if (p.dy) t.attr("dy", p.dy);
  }
}

// x label
const xl = svg.append("text").attr("x", 984).attr("y", 1343).attr("text-anchor", "middle")
  .attr("font-size", 46.7).attr("fill", "black")
  .attr("textLength", 474).attr("lengthAdjust", "spacing");
mathLabel(xl, [
  {t: "log"}, {t: "10", sub: true, dy: 10}, {t: "[", dy: -10}, {t: "M", it: true},
  {t: "∗,", sub: true, dy: 10}, {t: " tot", sub: true, it: true},
  {t: "/(", dy: -10}, {t: "M", it: true}, {t: "⊙", sub: true, dy: 10},
  {t: "/", dy: -10}, {t: "h", it: true}, {t: ")]"}
]);

// y label
const yl = svg.append("text").attr("transform", "translate(68,655) rotate(-90)")
  .attr("text-anchor", "middle").attr("font-size", 46.7).attr("fill", "black")
  .attr("textLength", 411).attr("lengthAdjust", "spacing");
mathLabel(yl, [
  {t: "log"}, {t: "10", sub: true, dy: 10}, {t: "[", dy: -10}, {t: "M", it: true},
  {t: "h", sub: true, it: true, dy: 10}, {t: "/(", dy: -10}, {t: "M", it: true},
  {t: "⊙", sub: true, dy: 10}, {t: "/", dy: -10}, {t: "h", it: true}, {t: ")]"}
]);

// legend
const lg = svg.append("g");
lg.append("rect").attr("x", 265).attr("y", 125).attr("width", 466).attr("height", 160).attr("rx", 10)
  .attr("fill", "white").attr("fill-opacity", 0.8).attr("stroke", "#d4d4d4").attr("stroke-width", 3.5);
const legendColors = [C1, C2];
const legendY = [168, 240];
seriesNames.forEach((name, i) => {
  lg.append("line").attr("x1", 279).attr("x2", 391).attr("y1", legendY[i]).attr("y2", legendY[i])
    .attr("stroke", legendColors[i]).attr("stroke-width", 12.5);
  lg.append("text").attr("x", 426).attr("y", legendY[i] + 17).attr("font-size", 47)
    .attr("text-anchor", "start").attr("fill", "black").text(name);
});

document.getElementById("chart").appendChild(chart);
</script>
</body></html>
